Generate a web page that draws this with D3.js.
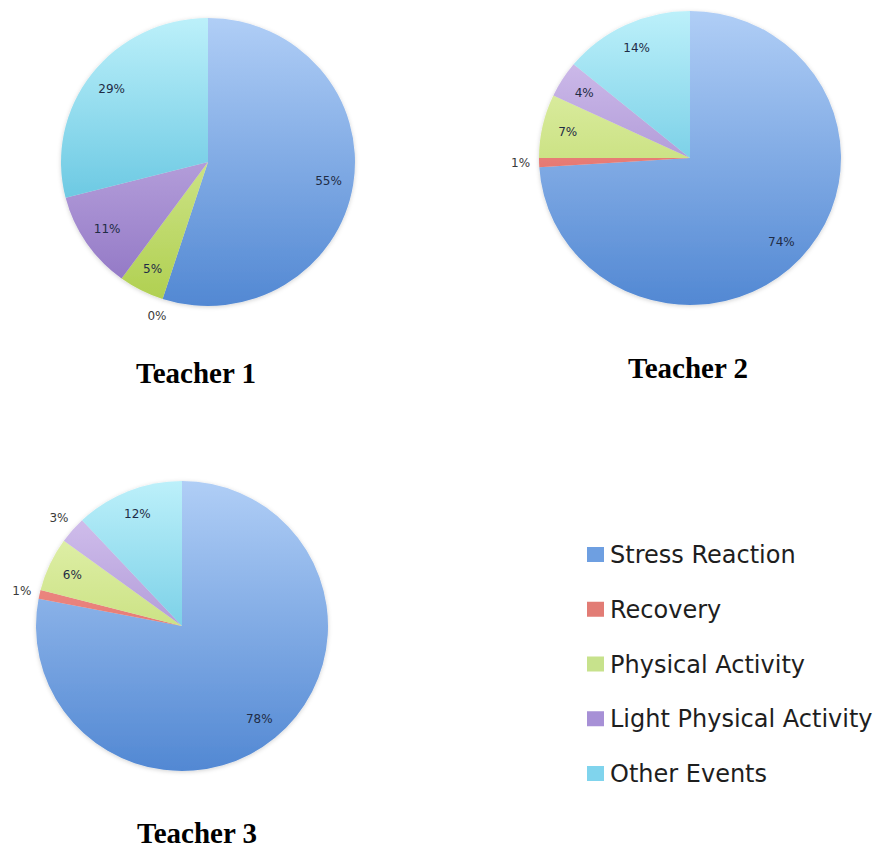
<!DOCTYPE html>
<html lang="en">
<head>
<meta charset="utf-8">
<script src="https://d3js.org/d3.v7.min.js"></script>
<style>
  * { margin: 0; padding: 0; }
  body { background: #fff; width: 876px; height: 848px; overflow: hidden; }
  .pct { font-family: "DejaVu Sans", sans-serif; font-size: 12px; fill: #1f2c45; }
  .pct.out { fill: #3a3a3a; }
  .title { font-family: "Liberation Serif", "Times New Roman", serif; font-size: 29px; font-weight: bold; fill: #000; }
  .legend text { font-family: "DejaVu Sans", sans-serif; font-size: 24px; fill: #1e1e1e; }
</style>
</head>
<body>
<script>
// categories and per-teacher shares (%)
const categories = ["Stress Reaction", "Recovery", "Physical Activity", "Light Physical Activity", "Other Events"];
const teacher1 = [55, 0, 5, 11, 29];
const teacher2 = [74, 1, 7, 4, 14];
const teacher3 = [78, 1, 6, 3, 12];
const titles = ["Teacher 1", "Teacher 2", "Teacher 3"];

// light (top) / dark (bottom) shades for each category
const lightColors = ["#b0cef6", "#f5a29b", "#e9f6bb", "#d9c8f1", "#bcf0fa"];
const darkColors  = ["#5288d3", "#d9554f", "#afcf4f", "#8d72c2", "#3db2d5"];
const legendColors = ["#6e9fe1", "#e27c75", "#c7e28c", "#a790d6", "#80d4ed"];

const width = 876, height = 848;

const svg = d3.select("body").append("svg")
  .attr("width", width)
  .attr("height", height);

const defs = svg.append("defs");
const shadow = defs.append("filter").attr("id", "soft").attr("x", "-10%").attr("y", "-10%").attr("width", "120%").attr("height", "120%");
shadow.append("feDropShadow").attr("dx", 0).attr("dy", 1).attr("stdDeviation", 2).attr("flood-color", "#000").attr("flood-opacity", 0.18);

const layout = [
  { data: teacher1, cx: 208, cy: 162, rx: 147, ry: 144, tx: 196, ty: 383 },
  { data: teacher2, cx: 690, cy: 158, rx: 151, ry: 147, tx: 688, ty: 378 },
  { data: teacher3, cx: 182, cy: 626, rx: 146, ry: 145, tx: 197, ty: 843 }
];

const pie = d3.pie().sort(null).value(d => d);

layout.forEach((p, pi) => {
  const sx = p.rx / p.ry;
  const arc = d3.arc().innerRadius(0).outerRadius(p.ry);
  const labelArc = d3.arc().innerRadius(p.ry * 0.83).outerRadius(p.ry * 0.83);
  const outArc = d3.arc().innerRadius(p.ry + 18).outerRadius(p.ry + 18);

  // vertical gradient per category over the whole pie
  categories.forEach((c, i) => {
    const g = defs.append("linearGradient")
      .attr("id", `grad-${pi}-${i}`)
      .attr("gradientUnits", "userSpaceOnUse")
      .attr("x1", 0).attr("y1", -p.ry).attr("x2", 0).attr("y2", p.ry);
    g.append("stop").attr("offset", "0%").attr("stop-color", lightColors[i]);
    g.append("stop").attr("offset", "100%").attr("stop-color", darkColors[i]);
  });

  const g = svg.append("g").attr("transform", `translate(${p.cx},${p.cy})`);
  const arcs = pie(p.data);

  g.append("g")
    .attr("transform", `scale(${sx},1)`)
    .attr("filter", "url(#soft)")
    .selectAll("path")
    .data(arcs)
    .enter()
    .append("path")
    .attr("d", arc)
    .attr("fill", (d, i) => `url(#grad-${pi}-${i})`);

  g.selectAll("text")
    .data(arcs)
    .enter()
    .append("text")
    .attr("class", d => d.data <= 3 ? "pct out" : "pct")
    .attr("x", d => (d.data <= 3 ? outArc : labelArc).centroid(d)[0] * sx)
    .attr("y", d => (d.data <= 3 ? outArc : labelArc).centroid(d)[1])
    .attr("dy", "0.35em")
    .attr("text-anchor", "middle")
    .text(d => d.data + "%");

  svg.append("text")
    .attr("class", "title")
    .attr("x", p.tx)
    .attr("y", p.ty)
    .attr("text-anchor", "middle")
    .text(titles[pi]);
});

// legend
const legend = svg.append("g").attr("class", "legend");
const rowY = d3.scalePoint().domain(categories).range([563, 782]);

legend.selectAll("rect")
  .data(categories)
  .enter()
  .append("rect")
  .attr("x", 587)
  .attr("y", d => rowY(d) - 16)
  .attr("width", 17)
  .attr("height", 15)
  .attr("fill", (d, i) => legendColors[i]);

legend.selectAll("text")
  .data(categories)
  .enter()
  .append("text")
  .attr("x", 610)
  .attr("y", d => rowY(d))
  .text(d => d);
</script>
</body>
</html>
